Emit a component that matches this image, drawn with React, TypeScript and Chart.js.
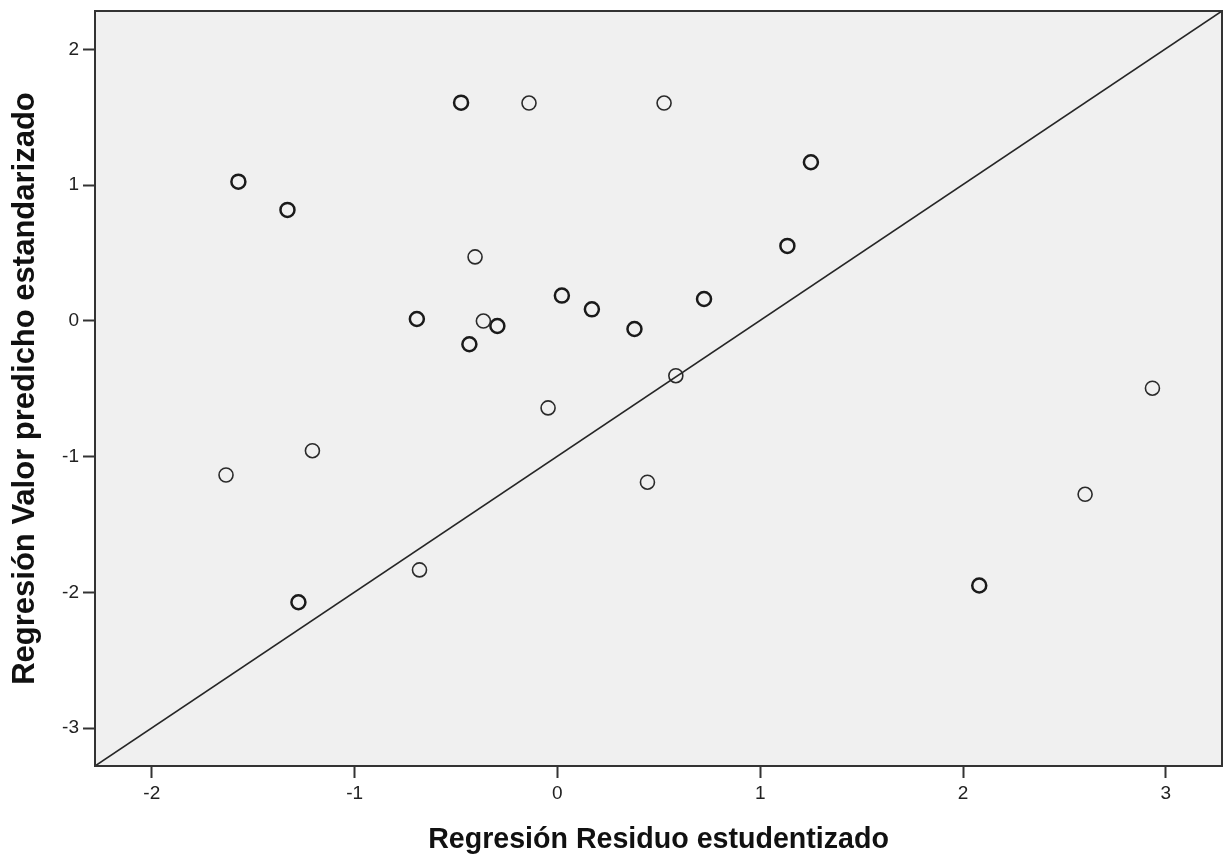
import React, { useEffect, useRef } from "react";
import { Chart, registerables } from "chart.js";

Chart.register(...registerables);

// Regresión Residuo estudentizado (x) vs Regresión Valor predicho estandarizado (y)
// single cases
const residuoSimple = [-0.14, 0.526, -0.406, -0.365, 0.584, -0.046, -1.634, -1.208, 0.444, 2.602, 2.934, -0.68];
const predichoSimple = [1.604, 1.604, 0.471, -0.001, -0.404, -0.641, -1.135, -0.956, -1.188, -1.277, -0.496, -1.834];
// coinciding cases (drawn darker in the original)
const residuoCoincidente = [-0.475, -1.573, -1.331, 1.25, 1.134, -0.693, -0.296, -0.434, 0.022, 0.17, 0.38, 0.723, -1.277, 2.08];
const predichoCoincidente = [1.607, 1.025, 0.817, 1.168, 0.552, 0.014, -0.038, -0.172, 0.186, 0.085, -0.06, 0.161, -2.072, -1.949];

const X_MIN = -2.28;
const X_MAX = 3.277;
const Y_MIN = -3.278;
const Y_MAX = 2.282;
const xTitle = "Regresión Residuo estudentizado";
const yTitle = "Regresión Valor predicho estandarizado";

const FONT = "'Liberation Sans', Arial, sans-serif";

export default function App() {
  const ref = useRef<HTMLCanvasElement | null>(null);

  useEffect(() => {
    document.body.style.margin = "0";
    const canvas = ref.current;
    if (!canvas) return;

    const simple = residuoSimple.map((x, i) => ({ x, y: predichoSimple[i] }));
    const coincidente = residuoCoincidente.map((x, i) => ({ x, y: predichoCoincidente[i] }));

    const frame = {
      id: "frame",
      beforeDraw(chart: any) {
        const { ctx, chartArea: a } = chart;
        ctx.save();
        ctx.fillStyle = "#f0f0f0";
        ctx.fillRect(a.left, a.top, a.right - a.left, a.bottom - a.top);
        ctx.restore();
      },
      afterDatasetsDraw(chart: any) {
        const { ctx, chartArea: a } = chart;
        ctx.save();
        ctx.strokeStyle = "#333333";
        ctx.lineWidth = 2;
        ctx.strokeRect(a.left, a.top, a.right - a.left, a.bottom - a.top);
        ctx.restore();
      },
    };

    const chart = new Chart(canvas, {
      type: "scatter",
      data: {
        datasets: [
          {
            type: "line",
            data: [
              { x: X_MIN, y: Y_MIN },
              { x: X_MAX, y: Y_MAX },
            ],
            borderColor: "#262626",
            borderWidth: 1.6,
            pointRadius: 0,
            fill: false,
          } as any,
          {
            data: simple,
            pointRadius: 7,
            pointBorderWidth: 1.6,
            pointBorderColor: "#2a2a2a",
            pointBackgroundColor: "rgba(0,0,0,0)",
            showLine: false,
          },
          {
            data: coincidente,
            pointRadius: 7,
            pointBorderWidth: 2.5,
            pointBorderColor: "#1a1a1a",
            pointBackgroundColor: "rgba(0,0,0,0)",
            showLine: false,
          },
        ],
      },
      options: {
        responsive: false,
        animation: false,
        layout: { autoPadding: false, padding: { top: 11, right: 3, left: 0, bottom: 0 } },
        plugins: {
          legend: { display: false },
          tooltip: { enabled: false },
          title: { display: false },
        },
        scales: {
          x: {
            type: "linear",
            min: X_MIN,
            max: X_MAX,
            afterFit(scale: any) {
              scale.height = 97;
              scale.paddingLeft = 0;
              scale.paddingRight = 0;
            },
            ticks: {
              stepSize: 1,
              includeBounds: false,
              color: "#222222",
              font: { family: FONT, size: 19 },
              padding: 4,
              maxRotation: 0,
            },
            grid: {
              drawOnChartArea: false,
              drawTicks: true,
              tickLength: 12,
              tickColor: "#333333",
              tickWidth: 2,
            },
            border: { display: true, color: "#333333", width: 2 },
            title: {
              display: true,
              text: xTitle,
              color: "#111111",
              font: { family: FONT, size: 28.6, weight: "bold" },
              padding: { top: 0, bottom: 6 },
            },
          },
          y: {
            type: "linear",
            min: Y_MIN,
            max: Y_MAX,
            afterFit(scale: any) {
              scale.width = 95;
              scale.paddingTop = 0;
              scale.paddingBottom = 0;
            },
            ticks: {
              stepSize: 1,
              includeBounds: false,
              color: "#222222",
              font: { family: FONT, size: 19 },
              padding: 4,
            },
            grid: {
              drawOnChartArea: false,
              drawTicks: true,
              tickLength: 12,
              tickColor: "#333333",
              tickWidth: 2,
            },
            border: { display: true, color: "#333333", width: 2 },
            title: {
              display: true,
              text: yTitle,
              color: "#111111",
              font: { family: FONT, size: 31, weight: "bold" },
              padding: { top: 7, bottom: 0 },
            },
          },
        },
      },
      plugins: [frame],
    });

    return () => chart.destroy();
  }, []);

  return (
    <div style={{ width: 1225, height: 863, background: "#ffffff" }}>
      <canvas ref={ref} width={1225} height={863} style={{ display: "block" }} />
    </div>
  );
}
